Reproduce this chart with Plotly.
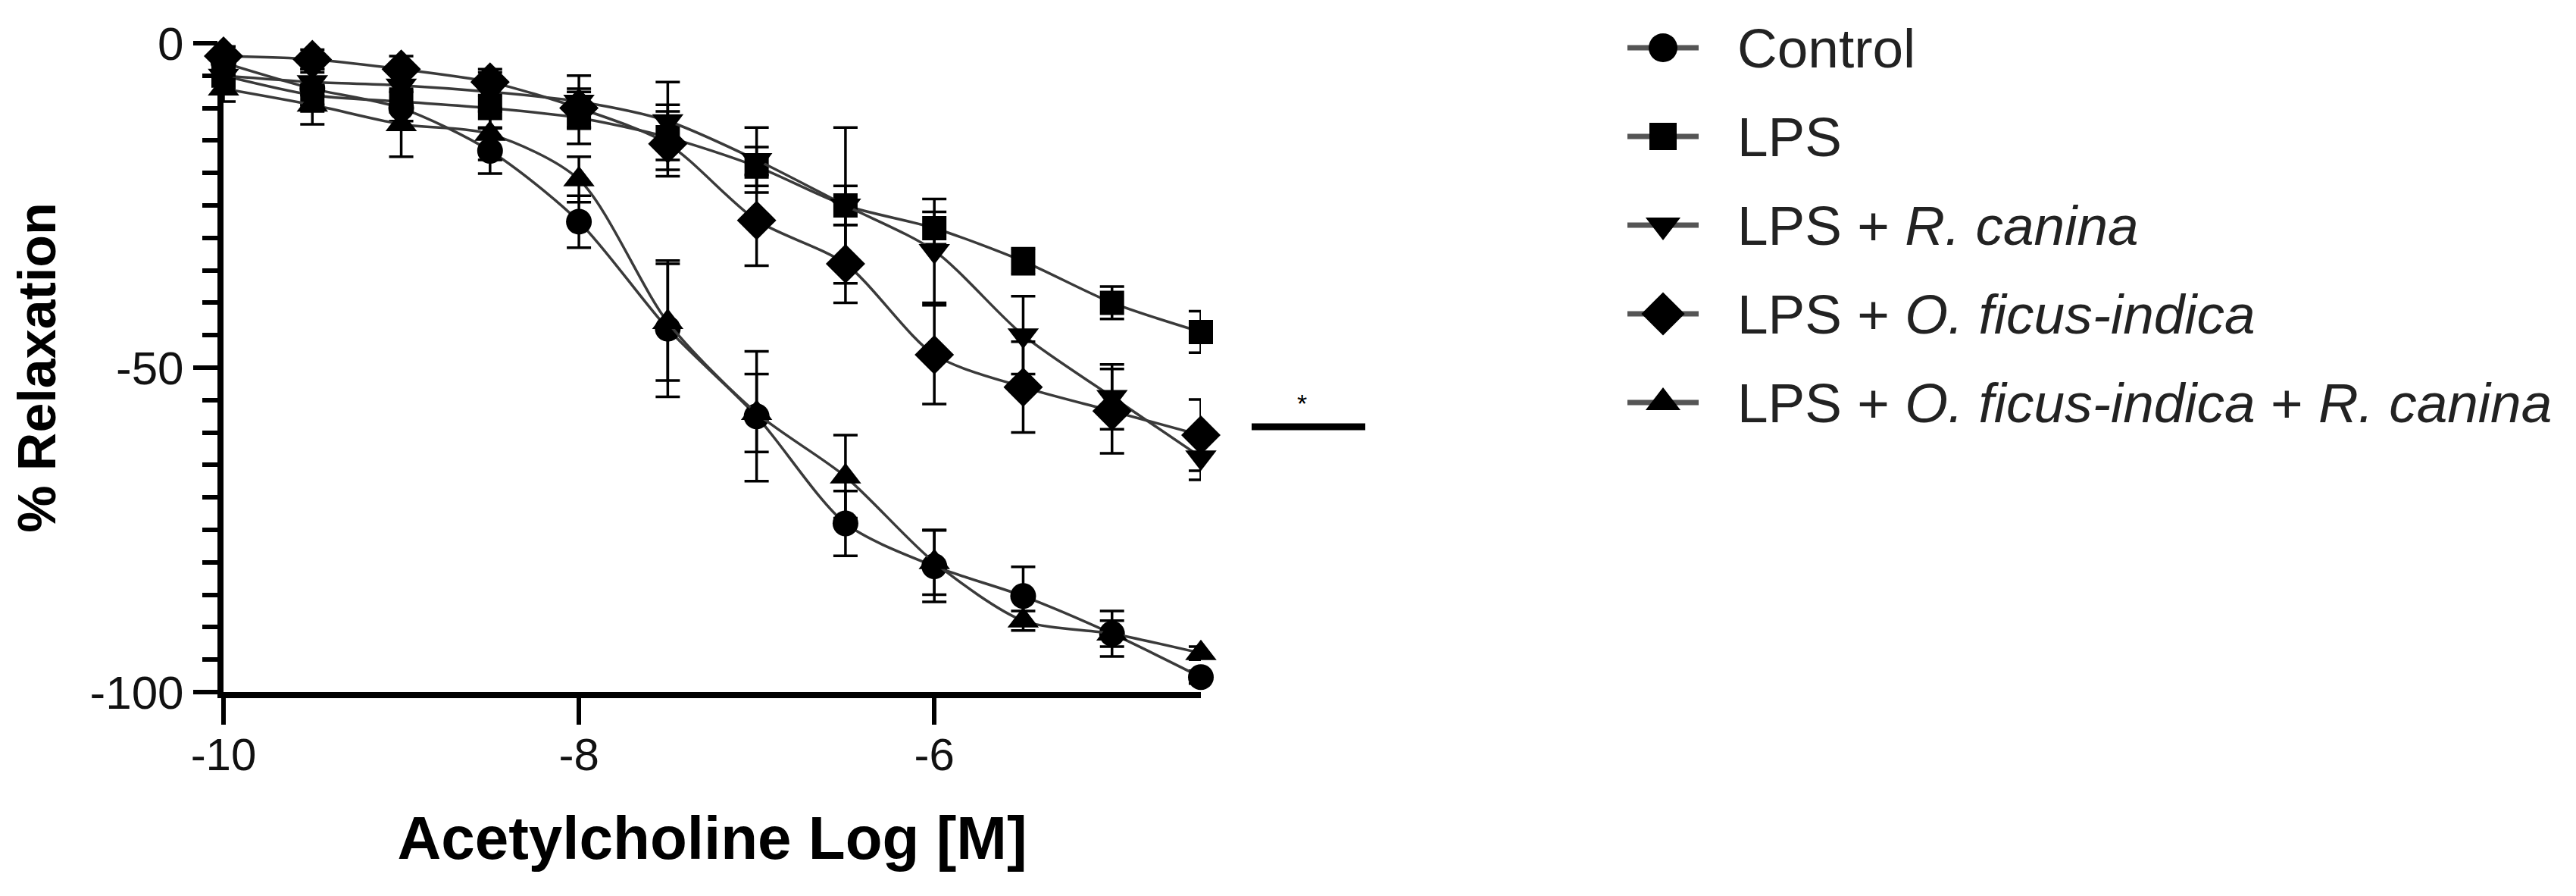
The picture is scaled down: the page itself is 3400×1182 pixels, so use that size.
import plotly.graph_objects as go

# ---- data ----
log_ach = [-10, -9.5, -9, -8.5, -8, -7.5, -7, -6.5, -6, -5.5, -5, -4.5]

control = [-3, -7, -10, -16.6, -27.5, -44, -57.5, -74, -80.6, -85.2, -91, -97.7]
control_sem = [2, 2.5, 3, 3.5, 4, 10.5, 10, 5, 5.5, 4.5, 3.5, 1]

lps = [-5, -8, -9, -10, -11.5, -14.5, -19, -25, -28.5, -33.6, -40, -44.5]
lps_sem = [2, 2.5, 3, 3, 4, 5, 3, 3, 2.5, 2, 2.5, 3.2]

lps_rc = [-5, -6, -6.5, -7.5, -9, -12, -18, -25, -32, -45, -54.5, -63.8]
lps_rc_sem = [2, 2, 3, 3, 4, 6, 5, 12, 8, 6, 5, 3.5]

lps_ofi = [-2, -2.5, -4, -6, -10, -15.5, -27.3, -34, -48, -53, -56.7, -60.4]
lps_ofi_sem = [1.5, 1.5, 2, 2, 3, 5, 7, 6, 7.6, 7, 6.5, 5.5]

lps_ofi_rc = [-7, -9.5, -12.5, -14, -21, -43, -57, -66.8, -80, -89, -91, -94]
lps_ofi_rc_sem = [2, 3, 5, 4, 3.5, 9, 6, 6.4, 5, 1.5, 2, 1]

series_names = [
    "Control",
    "LPS",
    "LPS + <i>R. canina</i>",
    "LPS + <i>O. ficus-indica</i>",
    "LPS + <i>O. ficus-indica</i> + <i>R. canina</i>",
]
series_values = [control, lps, lps_rc, lps_ofi, lps_ofi_rc]
series_sem = [control_sem, lps_sem, lps_rc_sem, lps_ofi_sem, lps_ofi_rc_sem]
series_symbols = ["circle", "square", "triangle-down", "diamond", "triangle-up"]

x_ticks = [-10, -8, -6]
y_ticks = [-100, -50, 0]

# ---- styling ----
FONT = "Liberation Sans, Arial, sans-serif"
W, H = 3400, 1182
PLOT_L, PLOT_R, PLOT_T, PLOT_B = 295, 1585, 57, 913
plot_sizes = [34, 32, 36, 40, 36]
legend_sizes = [38, 36, 40, 44, 40]
LEG_X_LINE0, LEG_X_MARK, LEG_X_LINE1, LEG_X_TEXT = 2148, 2195, 2242, 2291
LEG_Y0, LEG_DY = 63, 117

fig = go.Figure()
for name, vals, sem, sym, sz in zip(series_names, series_values, series_sem,
                                    series_symbols, plot_sizes):
    fig.add_trace(
        go.Scatter(
            x=log_ach, y=vals, name=name, mode="lines+markers",
            line=dict(color="#3a3a3a", width=3.5, shape="spline", smoothing=0.8),
            marker=dict(symbol=sym, size=sz, color="black", line=dict(width=0)),
            error_y=dict(type="data", array=sem, visible=True, color="black",
                         thickness=3.5, width=16),
            cliponaxis=False, showlegend=False,
        )
    )

# ---- legend (drawn on an overlay axis in pixel units) ----
for i, (name, sym, sz) in enumerate(zip(series_names, series_symbols, legend_sizes)):
    ry = LEG_Y0 + i * LEG_DY
    fig.add_trace(
        go.Scatter(
            x=[LEG_X_LINE0, LEG_X_LINE1], y=[ry, ry],
            xaxis="x2", yaxis="y2", mode="lines",
            line=dict(color="#555555", width=7),
            showlegend=False, hoverinfo="skip",
        )
    )
    fig.add_trace(
        go.Scatter(
            x=[LEG_X_MARK], y=[ry],
            xaxis="x2", yaxis="y2", mode="markers",
            marker=dict(symbol=sym, size=sz, color="black", opacity=1,
                        line=dict(width=0)),
            showlegend=False, hoverinfo="skip", cliponaxis=False,
        )
    )
    fig.add_annotation(
        xref="x2", yref="y2", x=LEG_X_TEXT, y=ry, text=name,
        xanchor="left", yanchor="middle", showarrow=False,
        font=dict(family=FONT, size=73, color="#222222"),
    )

# significance bar and asterisk
fig.add_shape(type="line", xref="x2", yref="y2",
              x0=1652, x1=1802, y0=563, y1=563,
              line=dict(color="black", width=9))
fig.add_annotation(xref="x2", yref="y2", x=1718, y=532, text="*",
                   showarrow=False, font=dict(family=FONT, size=34, color="black"))

fig.update_layout(
    width=W, height=H,
    margin=dict(l=0, r=0, t=0, b=0, autoexpand=False),
    paper_bgcolor="white",
    plot_bgcolor="rgba(0,0,0,0)",
    font=dict(family=FONT, color="black"),
    showlegend=False,
    xaxis=dict(
        domain=[PLOT_L / W, PLOT_R / W],
        range=[-10, -4.5],
        tickvals=x_ticks, ticktext=[str(v) for v in x_ticks],
        ticks="outside", ticklen=35, tickwidth=6, tickcolor="black",
        ticklabelstandoff=-12,
        showline=True, linewidth=8, linecolor="black",
        showgrid=False, zeroline=False,
        tickfont=dict(family=FONT, size=60, color="#111"),
        title=dict(text="<b>Acetylcholine Log [M]</b>",
                   font=dict(family=FONT, size=80, color="black"), standoff=52),
    ),
    yaxis=dict(
        domain=[(H - PLOT_B) / H, (H - PLOT_T) / H],
        range=[-100, 0],
        tickvals=y_ticks, ticktext=[str(v) for v in y_ticks],
        ticks="outside", ticklen=32, tickwidth=6, tickcolor="black",
        minor=dict(dtick=5, tick0=0, ticks="outside", ticklen=20, tickwidth=6,
                   tickcolor="black", showgrid=False),
        showline=True, linewidth=8, linecolor="black",
        showgrid=False, zeroline=False,
        tickfont=dict(family=FONT, size=62, color="#111"),
        title=dict(text="<b>% Relaxation</b>",
                   font=dict(family=FONT, size=70, color="black"), standoff=25),
    ),
    xaxis2=dict(domain=[0, 1], range=[0, W], visible=False, fixedrange=True,
                anchor="y2"),
    yaxis2=dict(domain=[0, 1], range=[H, 0], visible=False, fixedrange=True,
                anchor="x2"),
)

fig.write_html("out.html")
